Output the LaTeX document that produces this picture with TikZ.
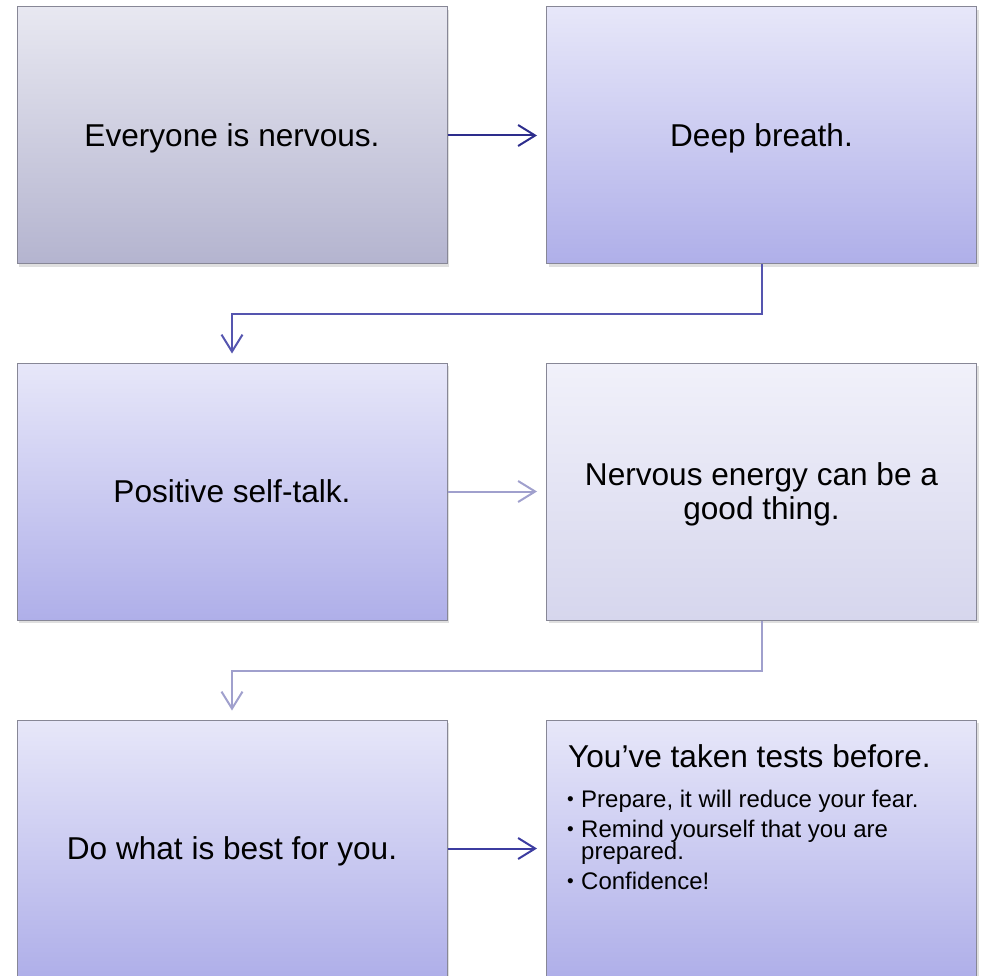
\documentclass[tikz,border=0pt]{standalone}
\usepackage{fontspec}
\setmainfont{Liberation Sans}
\usetikzlibrary{arrows.meta,shadows}
\definecolor{boxborder}{RGB}{135,135,150}
\definecolor{tlTop}{RGB}{232,232,241}
\definecolor{tlBot}{RGB}{180,180,207}
\definecolor{vTop}{RGB}{231,231,249}
\definecolor{vBot}{RGB}{175,175,233}
\definecolor{mrTop}{RGB}{241,241,250}
\definecolor{mrBot}{RGB}{214,214,237}
\definecolor{arrDark}{RGB}{45,45,140}
\definecolor{arrMid}{RGB}{85,85,175}
\definecolor{arrLight}{RGB}{160,160,205}
\definecolor{arrBot}{RGB}{60,60,160}
\begin{document}
\begin{tikzpicture}[x=1pt,y=-1pt,
  box/.style={draw=boxborder, line width=1pt, minimum width=430pt, minimum height=257pt,
    inner sep=0pt, align=center, font=\fontsize{31.6}{34}\selectfont,
    text height=22pt, text depth=0pt,
    drop shadow={shadow xshift=2pt, shadow yshift=-3pt, opacity=0.25}},
  grayfill/.style={top color=tlTop, bottom color=tlBot},
  violetfill/.style={top color=vTop, bottom color=vBot},
  palefill/.style={top color=mrTop, bottom color=mrBot},
  flow/.style={line width=2pt, -{Straight Barb[length=17pt,width=21pt,line width=2pt]}, shorten >=9pt},
  bul/.style={anchor=base west, inner sep=0pt, font=\fontsize{24}{26}\selectfont},
  dot/.style={anchor=base west, inner sep=0pt, font=\fontsize{19}{20}\selectfont}]
\useasboundingbox (0,0) rectangle (982,976);
\node[box, grayfill] (tl) at (232,135.5) {Everyone is nervous.};
\node[box, violetfill] (tr) at (761.5,135.5) {Deep breath.};
\node[box, violetfill] (ml) at (232,491.5) {Positive self-talk.};
\node[box, palefill, text height=56pt] (mr) at (761.5,491.5) {Nervous energy can be a\\ good thing.};
\node[box, violetfill] (bl) at (232,848.5) {Do what is best for you.};
\node[box, violetfill] (br) at (761.5,848.5) {};
\node[anchor=base west, inner sep=0pt, font=\fontsize{31.6}{36}\selectfont] (brtitle) at (568,767) {You’ve taken tests before.};
\node[dot] (b1) at (567,805.3) {•};
\node[bul] (t1) at (581,807.3) {Prepare, it will reduce your fear.};
\node[dot] (b2) at (567,835.3) {•};
\node[bul] (t2) at (581,837.3) {Remind yourself that you are};
\node[bul] (t2b) at (581,859.3) {prepared.};
\node[dot] (b3) at (567,887.3) {•};
\node[bul] (t3) at (581,889.3) {Confidence!};
\draw[flow, draw=arrDark] (tl) -- (tr);
\draw[flow, draw=arrMid] (tr.south) -- ++(0,49) -| (ml.north);
\draw[flow, draw=arrLight] (ml) -- (mr);
\draw[flow, draw=arrLight] (mr.south) -- ++(0,50) -| (bl.north);
\draw[flow, draw=arrBot] (bl) -- (br);
\end{tikzpicture}
\end{document}
